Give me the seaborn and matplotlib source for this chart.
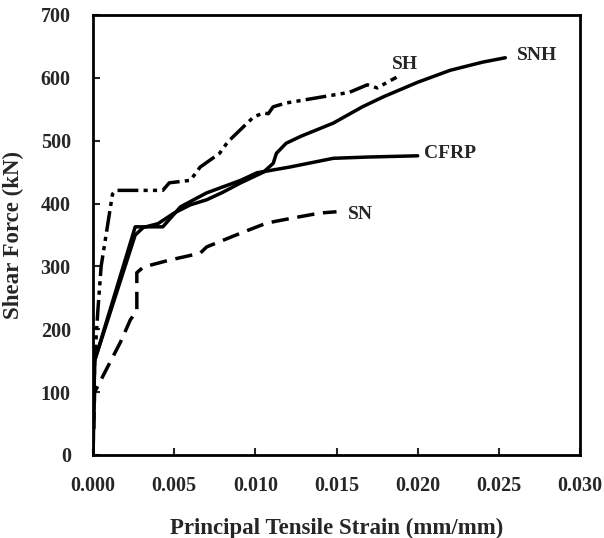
import matplotlib
matplotlib.use("Agg")
import matplotlib.pyplot as plt
import seaborn as sns
import pandas as pd

# ---- data ----
sh_x = [0, 0.0001, 0.0003, 0.0005, 0.0012, 0.0014, 0.0043, 0.0047, 0.0060, 0.0066, 0.0078, 0.0083,
        0.0099, 0.0105, 0.0108, 0.0111, 0.0119, 0.0135, 0.0158, 0.0169, 0.0175, 0.0187]
sh_y = [0, 150, 230, 300, 415, 421, 421, 433, 437, 458, 480, 498,
        538, 544, 543, 554, 560, 567, 577, 589, 584, 601]

snh_x = [0, 0.0001, 0.0026, 0.0031, 0.0040, 0.0050, 0.0060, 0.0070, 0.0080, 0.0091, 0.0105, 0.0111,
         0.0113, 0.0119, 0.0128, 0.0148, 0.0166, 0.0179, 0.0200, 0.0220, 0.0240, 0.0254]
snh_y = [0, 150, 350, 362, 368, 385, 398, 406, 418, 433, 450, 464,
         480, 496, 507, 528, 554, 570, 593, 612, 625, 632]

cfrp_x = [0, 0.0001, 0.0026, 0.0043, 0.0054, 0.0070, 0.0091, 0.0101, 0.0121, 0.0148, 0.0169, 0.0200]
cfrp_y = [0, 150, 363, 363, 395, 417, 437, 449, 458, 472, 474, 476]

sn_x = [0, 0.0001, 0.0009, 0.0017, 0.0023, 0.0027, 0.0027, 0.0031, 0.0047, 0.0066, 0.0070, 0.0091,
        0.0107, 0.0123, 0.0140, 0.0150]
sn_y = [0, 100, 140, 180, 215, 230, 290, 299, 310, 321, 331, 353,
        369, 377, 385, 387]

x_ticks = [0.000, 0.005, 0.010, 0.015, 0.020, 0.025, 0.030]
y_ticks = [0, 100, 200, 300, 400, 500, 600, 700]
x_label = "Principal Tensile Strain (mm/mm)"
y_label = "Shear Force (kN)"

series = {"SH": (sh_x, sh_y), "SNH": (snh_x, snh_y), "CFRP": (cfrp_x, cfrp_y), "SN": (sn_x, sn_y)}
label_pos = {"SH": (0.0192, 622), "SNH": (0.02736, 635), "CFRP": (0.0220, 479), "SN": (0.01645, 382)}
styles = {"SH": (0, (6, 1.5, 1.2, 1.5, 1.2, 1.5)), "SNH": "-", "CFRP": "-", "SN": (0, (5, 2.5))}

sns.set_style("white")
plt.rcParams["font.family"] = ["Liberation Serif", "DejaVu Serif"]
plt.rcParams["font.weight"] = "bold"

fig = plt.figure(figsize=(6.04, 5.38), dpi=100)
ax = fig.add_axes([93 / 604, (538 - 455) / 538, 487 / 604, 440 / 538])

for name, (xs, ys) in series.items():
    df = pd.DataFrame({"x": xs, "y": ys})
    sns.lineplot(data=df, x="x", y="y", ax=ax, sort=False, estimator=None,
                 color="black", linewidth=2.5, linestyle=styles[name])
    lx, ly = label_pos[name]
    ax.text(lx, ly, name, ha="center", va="center", fontsize=14, fontweight="bold")

ax.set_xlim(0, 0.030)
ax.set_ylim(0, 700)
ax.set_xticks(x_ticks)
ax.set_xticklabels([f"{v:.3f}" for v in x_ticks])
ax.set_yticks(y_ticks)
ax.set_yticklabels([str(v) for v in y_ticks])
ax.tick_params(axis="both", direction="in", length=5, width=1.5, labelsize=14.5,
               bottom=True, left=True, top=False, right=False)
ax.tick_params(axis="x", pad=15)
ax.tick_params(axis="y", pad=16)
for lab in ax.get_xticklabels() + ax.get_yticklabels():
    lab.set_fontweight("bold")
ax.set_xlabel(x_label, fontsize=16.5, fontweight="bold", labelpad=16)
ax.set_ylabel(y_label, fontsize=16.5, fontweight="bold", labelpad=12)
for s in ax.spines.values():
    s.set_linewidth(2)
    s.set_color("black")

fig.savefig("out.png", dpi=100)
